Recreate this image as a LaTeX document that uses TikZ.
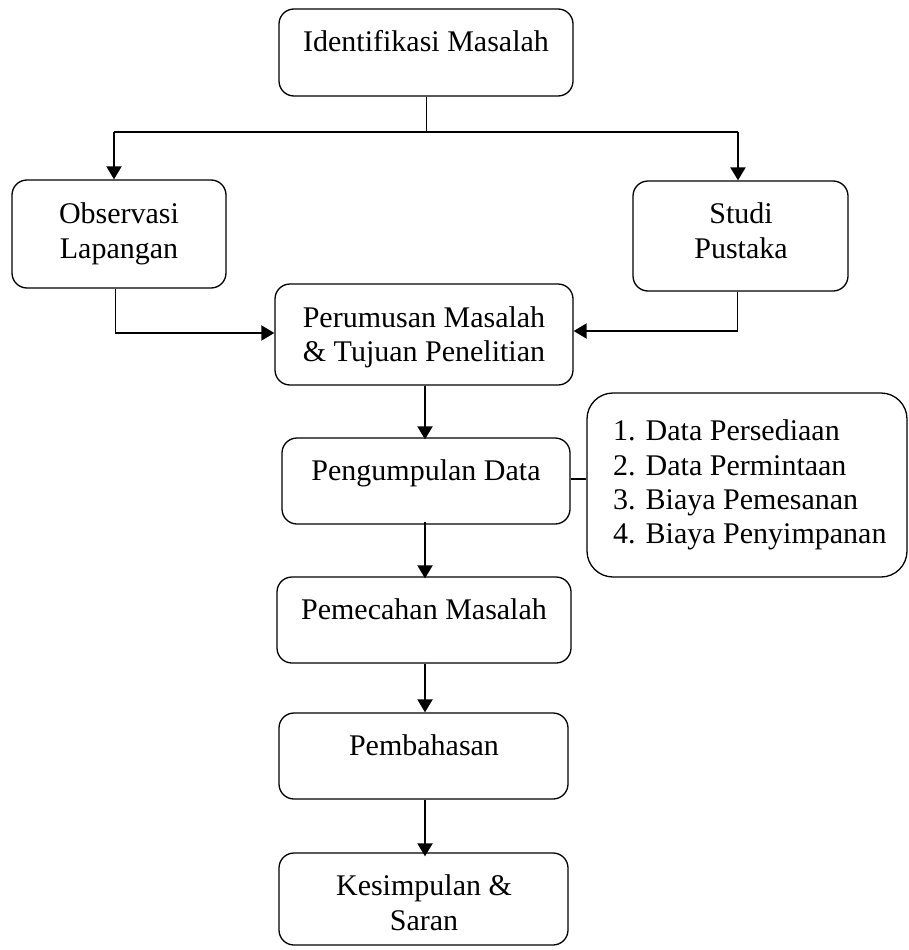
\documentclass[tikz,border=0pt]{standalone}
\usepackage{fontspec}
\setmainfont{Liberation Serif}
\usetikzlibrary{arrows.meta}
\begin{document}
\begin{tikzpicture}[x=1pt,y=-1pt,
  box/.style={draw,line width=1.3pt,rounded corners=15pt,inner sep=0pt},
  txt/.style={anchor=base,inner sep=0pt,font=\fontsize{30}{34.5}\selectfont},
  ltxt/.style={anchor=base west,inner sep=0pt,font=\fontsize{30}{34.5}\selectfont},
  thinln/.style={line width=1pt},
  thickln/.style={line width=2.1pt},
  arr/.style={line width=2.1pt,-{Triangle[length=13pt,width=15pt]}}]
\useasboundingbox (0,0) rectangle (908,950);
% boxes
\node[box,minimum width=294pt,minimum height=87pt] (idt) at (426,52.5) {};
\node[box,minimum width=214pt,minimum height=108pt] (obs) at (119,234) {};
\node[box,minimum width=215pt,minimum height=110pt] (stu) at (740.5,236) {};
\node[box,minimum width=298pt,minimum height=101pt] (per) at (424,334.5) {};
\node[box,minimum width=288pt,minimum height=86pt] (pen) at (426,481) {};
\node[box,rounded corners=26pt,minimum width=320pt,minimum height=184pt] (lst) at (747,485) {};
\node[box,minimum width=294pt,minimum height=86pt] (pmc) at (424,620) {};
\node[box,minimum width=289pt,minimum height=86pt] (pmb) at (423.5,756) {};
\node[box,minimum width=289pt,minimum height=92pt] (kes) at (423.5,899) {};
% texts
\node[txt] (tidt) at (426,52) {Identifikasi Masalah};
\node[txt] (tobs1) at (119,223) {Observasi};
\node[txt] (tobs2) at (119,258) {Lapangan};
\node[txt] (tstu1) at (741,223) {Studi};
\node[txt] (tstu2) at (741,258) {Pustaka};
\node[txt] (tper1) at (424,327) {Perumusan Masalah};
\node[txt] (tper2) at (424,361) {\& Tujuan Penelitian};
\node[txt] (tpen) at (426,480) {Pengumpulan Data};
\node[ltxt] (tl1) at (613,440) {1. Data Persediaan};
\node[ltxt] (tl2) at (613,475) {2. Data Permintaan};
\node[ltxt] (tl3) at (613,509) {3. Biaya Pemesanan};
\node[ltxt] (tl4) at (613,543) {4. Biaya Penyimpanan};
\node[txt] (tpmc) at (424,619) {Pemecahan Masalah};
\node[txt] (tpmb) at (424,755) {Pembahasan};
\node[txt] (tkes1) at (424,895) {Kesimpulan \&};
\node[txt] (tkes2) at (424,930) {Saran};
% connectors
\coordinate (jC) at (426,132);
\coordinate (jL) at (114,132);
\coordinate (jR) at (738,132);
\draw[thinln] (idt.south -| jC) -- (jC);
\draw[thickln] (jL) -- (jR);
\draw[arr] (jL) -- (jL |- obs.north);
\draw[arr] (jR) -- (jR |- stu.north);
\coordinate (cL) at (115,333);
\coordinate (cR) at (737,331);
\draw[thinln] (cL |- obs.south) -- (cL);
\draw[arr] ([xshift=-0.5pt]cL) -- (cL -| per.west);
\draw[thinln] (cR |- stu.south) -- (cR);
\draw[arr] ([xshift=0.5pt]cR) -- (cR -| per.east);
\coordinate (ax) at (425,0);
\draw[arr] (ax |- per.south) -- ([yshift=-2pt]ax |- pen.north);
\draw[thinln,line width=1.3pt] (pen.east |- 0,479) -- (lst.west |- 0,479);
\draw[arr] ([yshift=3pt]ax |- pen.south) -- ([yshift=-2pt]ax |- pmc.north);
\draw[arr] (ax |- pmc.south) -- (ax |- pmb.north);
\draw[arr] (ax |- pmb.south) -- ([yshift=-4pt]ax |- kes.north);
\end{tikzpicture}
\end{document}
